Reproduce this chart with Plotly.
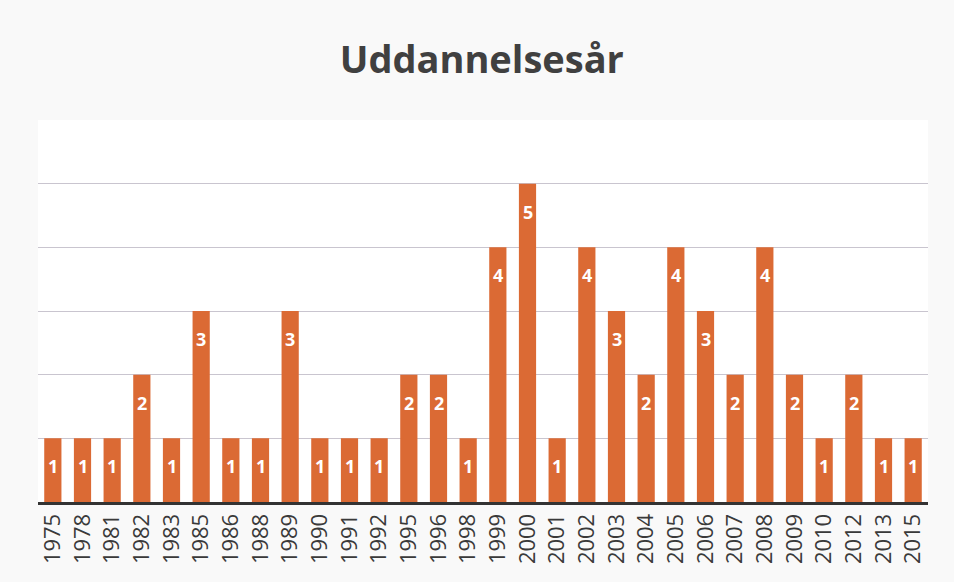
import plotly.graph_objects as go

years = ["1975", "1978", "1981", "1982", "1983", "1985", "1986", "1988", "1989", "1990",
         "1991", "1992", "1995", "1996", "1998", "1999", "2000", "2001", "2002", "2003",
         "2004", "2005", "2006", "2007", "2008", "2009", "2010", "2012", "2013", "2015"]
counts = [1, 1, 1, 2, 1, 3, 1, 1, 3, 1,
          1, 1, 2, 2, 1, 4, 5, 1, 4, 3,
          2, 4, 3, 2, 4, 2, 1, 2, 1, 1]
title_text = "Uddannelsesår"

FONT = "Open Sans, Lato, sans-serif"

fig = go.Figure()
fig.add_trace(go.Bar(
    x=years, y=counts,
    marker=dict(color="#DB6A34", line=dict(width=0)),
    hoverinfo="x+y",
))

for i, c in enumerate(counts):
    fig.add_annotation(
        x=i, y=c, text=f"<b>{c}</b>", showarrow=False,
        yshift=-28, font=dict(family=FONT, size=18, color="white"),
    )

fig.update_layout(
    width=954, height=582,
    margin=dict(l=38, r=26, t=120, b=80),
    paper_bgcolor="#f9f9f9",
    plot_bgcolor="#ffffff",
    bargap=0.42,
    showlegend=False,
    title=dict(
        text=f"<b>{title_text}</b>", x=0.505, xanchor="center", y=0.897, yanchor="middle",
        font=dict(family=FONT, size=38, color="#404040"),
    ),
    xaxis=dict(
        type="category", tickangle=-90, showgrid=False,
        range=[-0.5, len(years) - 0.5],
        tickfont=dict(family=FONT, size=22, color="#3a3a3a"),
        showline=True, linecolor="#333333", linewidth=3, ticks="",
    ),
    yaxis=dict(
        range=[0, 6], tickvals=[1, 2, 3, 4, 5], showticklabels=False,
        showgrid=True, gridcolor="#c9c5cf", gridwidth=1, zeroline=False,
    ),
)

fig.write_html("out.html", config={"displayModeBar": False},
               post_script="document.body.style.margin='0';")
